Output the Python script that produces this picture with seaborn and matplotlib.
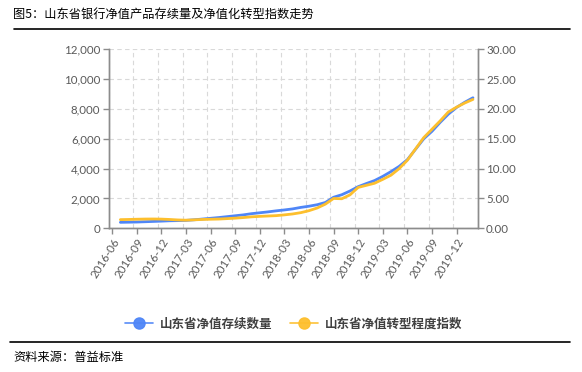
import numpy as np
import pandas as pd
import matplotlib
matplotlib.use("Agg")
import matplotlib.pyplot as plt
import seaborn as sns
from matplotlib.lines import Line2D

# monthly data, 2016-07 .. 2020-02
months = pd.period_range("2016-07", "2020-02", freq="M").strftime("%Y-%m").tolist()
count_vals = [400, 410, 420, 440, 460, 480, 505, 515, 530, 570, 620, 670,
              720, 780, 840, 900, 980, 1040, 1100, 1170, 1230, 1300, 1400, 1480,
              1580, 1730, 2080, 2250, 2500, 2790, 3000, 3200, 3480, 3800, 4150, 4600,
              5300, 6000, 6500, 7100, 7650, 8100, 8450, 8750]
index_vals = [1.45, 1.48, 1.52, 1.55, 1.56, 1.54, 1.48, 1.40, 1.36, 1.42, 1.48, 1.52,
              1.55, 1.62, 1.70, 1.80, 1.92, 2.00, 2.06, 2.12, 2.25, 2.40, 2.62, 2.95,
              3.40, 4.05, 5.00, 4.95, 5.60, 6.85, 7.20, 7.55, 8.20, 8.90, 10.00, 11.40,
              13.30, 15.20, 16.60, 18.00, 19.50, 20.30, 21.00, 21.60]
tick_labels = ["2016-06", "2016-09", "2016-12", "2017-03", "2017-06", "2017-09",
               "2017-12", "2018-03", "2018-06", "2018-09", "2018-12", "2019-03",
               "2019-06", "2019-09", "2019-12"]

series_names = ["山东省净值存续数量", "山东省净值转型程度指数"]
blue = "#4f86f7"
gold = "#fdbf2d"

def month_pos(s):
    y, m = s.split("-")
    return (int(y) - 2016) * 12 + int(m) - 6

df = pd.DataFrame({"pos": [month_pos(m) for m in months],
                   "count": count_vals, "index": index_vals})
tick_pos = [month_pos(t) for t in tick_labels]

sns.set_theme(style="white")
plt.rcParams["font.family"] = ["Noto Sans CJK SC", "DejaVu Sans"]

fig = plt.figure(figsize=(5.82, 3.72), dpi=100)
ax = fig.add_axes([0.1868, 0.3863, 0.634, 0.4812])
ax2 = ax.twinx()

sns.lineplot(data=df, x="pos", y="count", ax=ax, color=blue, lw=2)
sns.lineplot(data=df, x="pos", y="index", ax=ax2, color=gold, lw=2)

ax.set_xlim(-0.36, 44.47)
ax.set_ylim(0, 12000)
ax2.set_ylim(0, 30)
ax.set_yticks(np.arange(0, 12001, 2000))
ax2.set_yticks(np.arange(0, 30.1, 5))
ax.set_yticklabels([f"{v:,}" for v in range(0, 12001, 2000)])
ax2.set_yticklabels([f"{v:.2f}" for v in np.arange(0, 30.1, 5)])
ax.set_xticks(tick_pos)
ax.set_xticklabels(tick_labels, rotation=58, ha="right", rotation_mode="anchor")
# gridlines sit a bit left of the tick marks
ax.set_xticks([p - 0.42 for p in tick_pos] + [44.58], minor=True)

for a in (ax, ax2):
    a.set_xlabel("")
    a.set_ylabel("")
    a.spines["top"].set_visible(False)
    for s in ("left", "right", "bottom"):
        a.spines[s].set_color("#8c8c8c")
        a.spines[s].set_linewidth(1.0)
    a.tick_params(colors="#595959", labelsize=8.3, length=4, width=1.0,
                  direction="out", color="#8c8c8c", pad=2)
    for lab in a.get_yticklabels() + a.get_xticklabels():
        lab.set_fontfamily(["Lato", "DejaVu Sans"])

ax.tick_params(axis="x", which="minor", length=0)
ax.tick_params(axis="x", which="major", bottom=True)
ax.tick_params(axis="y", left=True)
ax2.tick_params(axis="y", right=True)
ax.grid(False)
ax2.grid(False)
ax.grid(axis="y", which="major", color="#d9d9d9", ls=(0, (4, 3)), lw=0.8)
ax.grid(axis="x", which="minor", color="#d9d9d9", ls=(0, (4, 3)), lw=0.8)
ax.set_zorder(ax2.get_zorder() - 1)
ax2.patch.set_visible(False)
ax.patch.set_visible(False)

handles = [Line2D([], [], color=blue, lw=1.2, marker="o", ms=8, alpha=0.95),
           Line2D([], [], color=gold, lw=1.2, marker="o", ms=8, alpha=0.95)]
fig.legend(handles, series_names, loc="center", bbox_to_anchor=(0.505, 1 - 324 / 372),
           ncol=2, frameon=False, handlelength=2.2, columnspacing=1.4,
           handletextpad=0.6, prop={"family": "Noto Sans CJK SC", "weight": "bold", "size": 9},
           labelcolor="#404040")

fig.text(13 / 582, 1 - 14 / 372, "图5：山东省银行净值产品存续量及净值化转型指数走势",
         fontsize=8.8, va="center", ha="left", color="black")
fig.add_artist(Line2D([14 / 582, 570 / 582], [1 - 29.3 / 372] * 2, color="black", lw=1.2))
fig.add_artist(Line2D([10 / 582, 570 / 582], [1 - 342 / 372] * 2, color="black", lw=1.2))
fig.text(13 / 582, 1 - 357 / 372, "资料来源：普益标准", fontsize=8.8, va="center",
         ha="left", color="black")

fig.savefig("out.png", dpi=100)
